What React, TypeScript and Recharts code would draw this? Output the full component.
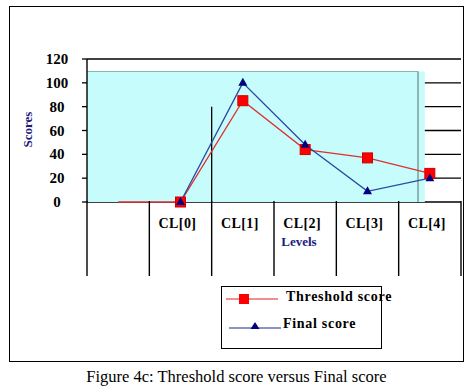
import React from "react";
import {
  ComposedChart, Line, XAxis, YAxis, CartesianGrid, ReferenceArea, ReferenceLine, Legend,
} from "recharts";

const categories = ["", "CL[0]", "CL[1]", "CL[2]", "CL[3]", "CL[4]"];
const thresholdScores = [0, 0, 85, 44, 37, 24];
const finalScores = [null, 0, 100, 48, 9, 20];
const yTicks = [0, 20, 40, 60, 80, 100, 120];
const boundaryTicks = [0, 1, 2, 3, 4, 5, 6];
const centerTicks = [0.5, 1.5, 2.5, 3.5, 4.5, 5.5];

const data = categories.map((c, i) => ({
  x: i + 0.5,
  label: c,
  threshold: thresholdScores[i],
  final: finalScores[i],
}));

const SERIF = '"Liberation Serif", "Times New Roman", serif';
const NAVY = "#1a1a7e";

function YTick(props: any) {
  const { x, y, payload } = props;
  return (
    <text x={x - 23} y={y + 5} textAnchor="middle" fontFamily={SERIF} fontWeight="bold" fontSize={15} fill="#000">
      {payload.value}
    </text>
  );
}

function SeparatorTick(props: any) {
  const { x, y } = props;
  return <line x1={x} x2={x} y1={y - 1} y2={y + 74} stroke="#000" strokeWidth={1.4} />;
}

function LabelTick(props: any) {
  const { x, y, payload } = props;
  const label = categories[Math.floor(payload.value)];
  return (
    <text x={x - 3} y={y + 25} textAnchor="middle" fontFamily={SERIF} fontWeight="bold" fontSize={14} letterSpacing={0.4} fill="#000">
      {label}
    </text>
  );
}

function SquareDot(props: any) {
  const { cx, cy, index } = props;
  if (index === 0 || cx == null || cy == null) return <g key={`s${index}`} />;
  return <rect key={`s${index}`} x={cx - 5} y={cy - 5} width={10} height={10} fill="#ff0000" stroke="#d00000" strokeWidth={1} />;
}

function TriangleDot(props: any) {
  const { cx, cy, index } = props;
  if (cx == null || cy == null) return <g key={`t${index}`} />;
  return <path key={`t${index}`} d={`M${cx},${cy - 5} L${cx + 4.5},${cy + 3} L${cx - 4.5},${cy + 3} Z`} fill="#00007f" />;
}

function LegendBox() {
  const textStyle: React.CSSProperties = {
    position: "absolute", whiteSpace: "nowrap", fontFamily: SERIF, fontWeight: "bold", fontSize: 14, letterSpacing: 0.7,
  };
  return (
    <div style={{ position: "relative", width: 161, height: 63, border: "1.4px solid #000", boxSizing: "border-box", background: "#fff" }}>
      <svg width={60} height={63} style={{ position: "absolute", left: 0, top: 0 }}>
        <line x1={4} x2={56} y1={12} y2={12} stroke="#e02020" strokeWidth={1.2} />
        <rect x={17} y={7} width={10} height={10} fill="#ff0000" />
        <line x1={7} x2={59} y1={41} y2={41} stroke="#1a2a8a" strokeWidth={1.2} />
        <path d="M33,35 L37.5,42 L28.5,42 Z" fill="#00007f" />
      </svg>
      <div style={{ ...textStyle, left: 64, top: 2 }}>Threshold score</div>
      <div style={{ ...textStyle, left: 61, top: 29 }}>Final score</div>
    </div>
  );
}

export default function App() {
  return (
    <div style={{ position: "absolute", left: 0, top: 0, width: 473, height: 389, background: "#fff" }}>
      <div style={{ position: "absolute", left: 9, top: 6, width: 455, height: 356, border: "1.5px solid #000", boxSizing: "border-box" }} />
      <div style={{ position: "absolute", left: 0, top: 0 }}>
        <ComposedChart width={473} height={389} data={data} margin={{ top: 59, right: 12, left: 27, bottom: 107 }}>
          <ReferenceArea xAxisId="grid" x1={0} x2={5.42} y1={0} y2={109.5} fill="#c6fcfc" fillOpacity={1} stroke="none" ifOverflow="visible" />
          <CartesianGrid xAxisId="grid" vertical={false} stroke="#000" strokeWidth={1.3} />
          <ReferenceLine xAxisId="grid" segment={[{ x: 0, y: 109.5 }, { x: 5.31, y: 109.5 }]} stroke="#8fb4b4" strokeWidth={1.2} />
          <ReferenceLine xAxisId="grid" segment={[{ x: 5.31, y: 0 }, { x: 5.31, y: 109.5 }]} stroke="#6f8f8f" strokeWidth={1.3} />
          <ReferenceLine xAxisId="grid" segment={[{ x: 2, y: 0 }, { x: 2, y: 80 }]} stroke="#000" strokeWidth={1.3} />
          <XAxis xAxisId="grid" dataKey="x" type="number" domain={[0, 6]} ticks={boundaryTicks} height={1}
            axisLine={false} tickLine={false} tickSize={0} tickMargin={0} tick={<SeparatorTick />} interval={0} />
          <XAxis xAxisId="labels" dataKey="x" type="number" domain={[0, 6]} ticks={centerTicks} height={79}
            axisLine={false} tickLine={false} tickSize={0} tickMargin={0} tick={<LabelTick />} interval={0}
            label={{ value: "Levels", position: "insideTop", offset: 34, dx: 25, fill: NAVY, fontFamily: SERIF, fontWeight: "bold", fontSize: 13 }} />
          <YAxis domain={[0, 120]} ticks={yTicks} width={60} axisLine={{ stroke: "#000", strokeWidth: 1.4 }}
            tickLine={{ stroke: "#000", strokeWidth: 1.3 }} tickSize={5} tickMargin={2} tick={<YTick />} interval={0}
            label={{ value: "Scores", angle: -90, position: "insideLeft", offset: 0, dy: 17, fill: NAVY, fontFamily: SERIF, fontWeight: "bold", fontSize: 13 }} />
          <Line xAxisId="grid" dataKey="threshold" name="Threshold score" stroke="#e03030" strokeWidth={1.3}
            dot={SquareDot} activeDot={false} isAnimationActive={false} />
          <Line xAxisId="grid" dataKey="final" name="Final score" stroke="#2a4aa0" strokeWidth={1.3}
            dot={TriangleDot} activeDot={false} isAnimationActive={false} connectNulls={false} />
          <Legend content={<LegendBox />} layout="horizontal" verticalAlign="middle" align="center"
            wrapperStyle={{ position: "absolute", left: 221, top: 286, width: 161, height: 63 }} />
        </ComposedChart>
      </div>
      <div style={{ position: "absolute", left: 0, top: 367, width: 473, textAlign: "center", fontFamily: SERIF, fontSize: 16.5, color: "#000" }}>
        Figure 4c: Threshold score versus Final score
      </div>
    </div>
  );
}
